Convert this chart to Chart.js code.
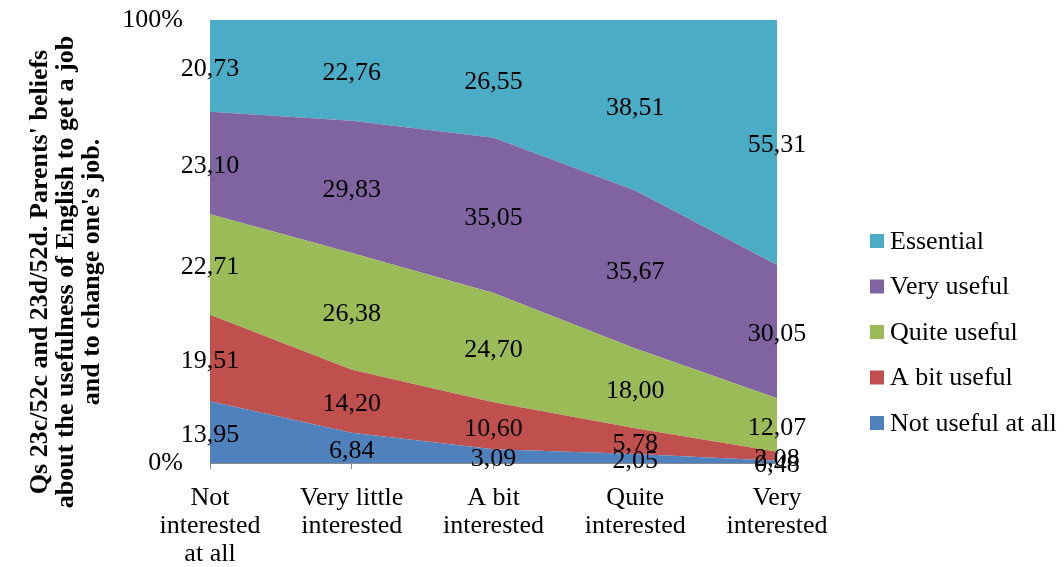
<!DOCTYPE html>
<html>
<head>
<meta charset="utf-8">
<script src="https://cdn.jsdelivr.net/npm/chart.js@4/dist/chart.umd.min.js"></script>
<style>
  html, body { margin: 0; padding: 0; background: #ffffff; }
  #wrap { width: 1064px; height: 567px; position: relative; }
</style>
</head>
<body>
<div id="wrap"><canvas id="chart" width="1064" height="567"></canvas></div>
<script>
// Interest in English (categories) vs. parents' beliefs about its usefulness (%)
const categories = [
  ["Not", "interested", "at all"],
  ["Very little", "interested"],
  ["A bit", "interested"],
  ["Quite", "interested"],
  ["Very", "interested"]
];
const seriesNames = ["Not useful at all", "A bit useful", "Quite useful", "Very useful", "Essential"];
const notUseful   = [13.95, 6.84, 3.09, 2.05, 0.48];
const aBitUseful  = [19.51, 14.20, 10.60, 5.78, 2.08];
const quiteUseful = [22.71, 26.38, 24.70, 18.00, 12.07];
const veryUseful  = [23.10, 29.83, 35.05, 35.67, 30.05];
const essential   = [20.73, 22.76, 26.55, 38.51, 55.31];
const yTickLabels = { 0: "0%", 100: "100%" };
const titleLines = [
  "Qs 23c/52c and 23d/52d. Parents' beliefs",
  "about the usefulness of English to get a job",
  "and to change one's job."
];

const colors = ["#4F81BD", "#C0504D", "#9BBB59", "#8064A2", "#4BACC6"];
const FONT = "'Liberation Serif', 'Times New Roman', serif";
const AXIS_GREY = "#898989";

const values = [notUseful, aBitUseful, quiteUseful, veryUseful, essential];
const datasets = values.map((v, i) => ({
  label: seriesNames[i],
  data: v,
  backgroundColor: colors[i],
  borderColor: colors[i],
  borderWidth: 0,
  pointRadius: 0,
  pointHoverRadius: 0,
  tension: 0,
  fill: i === 0 ? "origin" : "-1"
}));

// value labels centred inside each band
const bandLabels = {
  id: "bandLabels",
  afterDatasetsDraw(chart) {
    const ctx = chart.ctx;
    const yScale = chart.scales.y;
    ctx.save();
    ctx.font = "26px " + FONT;
    ctx.fillStyle = "#000000";
    ctx.textAlign = "center";
    ctx.textBaseline = "middle";
    chart.data.datasets.forEach((ds, di) => {
      const meta = chart.getDatasetMeta(di);
      meta.data.forEach((pt, j) => {
        const below = di === 0 ? yScale.getPixelForValue(0) : chart.getDatasetMeta(di - 1).data[j].y;
        const y = (pt.y + below) / 2 + 3;
        ctx.fillText(ds.data[j].toFixed(2).replace(".", ","), pt.x, y);
      });
    });
    ctx.restore();
  }
};

// vertical axis title and legend on the right
const sideText = {
  id: "sideText",
  afterDraw(chart) {
    const ctx = chart.ctx;
    ctx.save();
    // rotated title
    ctx.font = "bold 26px " + FONT;
    ctx.fillStyle = "#000000";
    ctx.textAlign = "center";
    ctx.textBaseline = "middle";
    const xs = [40, 66, 92];
    titleLines.forEach((line, i) => {
      ctx.save();
      ctx.translate(xs[i], 272);
      ctx.rotate(-Math.PI / 2);
      ctx.fillText(line, 0, 0);
      ctx.restore();
    });
    // legend, top item = top band
    ctx.font = "26px " + FONT;
    ctx.textAlign = "left";
    const items = chart.data.datasets.slice().reverse();
    items.forEach((ds, i) => {
      const cy = 241 + i * 45.5;
      ctx.fillStyle = ds.backgroundColor;
      ctx.fillRect(870, cy - 7, 14, 14);
      ctx.fillStyle = "#000000";
      ctx.fillText(ds.label, 890, cy + 1);
    });
    ctx.restore();
  }
};

new Chart(document.getElementById("chart"), {
  type: "line",
  data: { labels: categories, datasets },
  options: {
    responsive: false,
    animation: false,
    events: [],
    layout: { padding: { left: 110, right: 287, top: 20, bottom: 0 } },
    plugins: { legend: { display: false }, tooltip: { enabled: false } },
    scales: {
      x: {
        type: "category",
        offset: false,
        z: 1,
        border: { display: true, color: AXIS_GREY, width: 1 },
        grid: { display: true, drawOnChartArea: false, drawTicks: true, tickLength: 6, color: AXIS_GREY },
        ticks: {
          color: "#000000",
          font: { family: FONT, size: 26, lineHeight: 1.08 },
          maxRotation: 0,
          minRotation: 0,
          autoSkip: false,
          padding: 15
        },
        afterFit(scale) {
          scale.height = 104;
          scale.paddingLeft = 0;
          scale.paddingRight = 0;
        }
      },
      y: {
        stacked: true,
        min: 0,
        max: 100,
        z: 1,
        border: { display: true, color: AXIS_GREY, width: 1 },
        grid: { display: true, drawTicks: false, color: AXIS_GREY },
        ticks: {
          stepSize: 100,
          color: "#000000",
          font: { family: FONT, size: 26 },
          padding: 27,
          callback: (v) => yTickLabels[v] !== undefined ? yTickLabels[v] : ""
        },
        afterFit(scale) {
          scale.width = 100;
          scale.paddingTop = 0;
          scale.paddingBottom = 0;
        }
      }
    }
  },
  plugins: [bandLabels, sideText]
});
</script>
</body>
</html>
